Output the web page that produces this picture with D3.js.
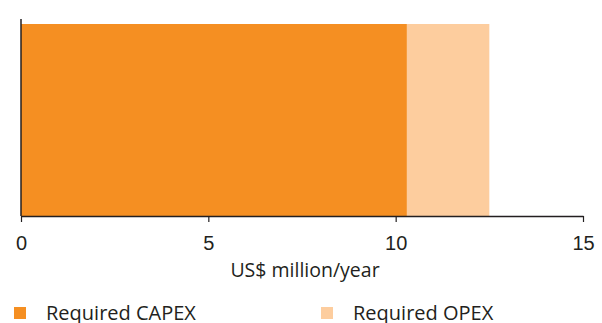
<!DOCTYPE html>
<html>
<head>
<meta charset="utf-8">
<script src="https://cdn.jsdelivr.net/npm/d3@7/dist/d3.min.js"></script>
<style>
  html, body { margin: 0; padding: 0; background: #fff; }
  svg { display: block; font-family: "Open Sans", "Noto Sans", sans-serif; }
</style>
</head>
<body>
<svg id="chart" width="602" height="323"></svg>
<script>
// Annual cost components (US$ million/year)
const seriesNames = ["Required CAPEX", "Required OPEX"];
const seriesValues = [10.3, 2.2];
const seriesColors = ["#F58F22", "#FDCD9E"];
const xTicks = [0, 5, 10, 15];
const axisTitle = "US$ million/year";

const svg = d3.select("#chart");
const x = d3.scaleLinear().domain([0, 15]).range([21, 583]);
const barTop = 24, barBottom = 216;

// stacked segments
let start = 0;
const segments = seriesValues.map((v, i) => {
  const s = { x0: start, x1: start + v, color: seriesColors[i] };
  start += v;
  return s;
});

svg.selectAll("rect.seg")
  .data(segments)
  .join("rect")
  .attr("class", "seg")
  .attr("x", d => x(d.x0))
  .attr("y", barTop)
  .attr("width", d => x(d.x1) - x(d.x0))
  .attr("height", barBottom - barTop)
  .attr("fill", d => d.color);

// bottom axis
const axis = svg.append("g")
  .attr("transform", `translate(0,${barBottom})`)
  .call(d3.axisBottom(x).tickValues(xTicks).tickSize(6).tickSizeOuter(0).tickFormat(d3.format("d")));
axis.select(".domain").attr("stroke", "#231F20").attr("stroke-width", 1.5);
axis.selectAll(".tick line").attr("stroke", "#231F20").attr("stroke-width", 1.2);
axis.selectAll(".tick text")
  .attr("fill", "#231F20")
  .attr("font-size", 20)
  .attr("dy", 0)
  .attr("y", 34);

// left axis line
svg.append("line")
  .attr("x1", x(0)).attr("x2", x(0))
  .attr("y1", 19).attr("y2", barBottom)
  .attr("stroke", "#231F20").attr("stroke-width", 1.5);

// axis title
svg.append("text")
  .attr("x", 305).attr("y", 277)
  .attr("text-anchor", "middle")
  .attr("font-size", 19.5)
  .attr("fill", "#231F20")
  .text(axisTitle);

// legend
const legendX = [14, 321];
const legend = svg.selectAll("g.legend")
  .data(seriesNames)
  .join("g")
  .attr("class", "legend")
  .attr("transform", (d, i) => `translate(${legendX[i]},0)`);
legend.append("rect")
  .attr("x", 0).attr("y", 307)
  .attr("width", 12).attr("height", 12)
  .attr("fill", (d, i) => seriesColors[i]);
legend.append("text")
  .attr("x", 32).attr("y", 320)
  .attr("font-size", 20)
  .attr("fill", "#231F20")
  .text(d => d);
</script>
</body>
</html>
